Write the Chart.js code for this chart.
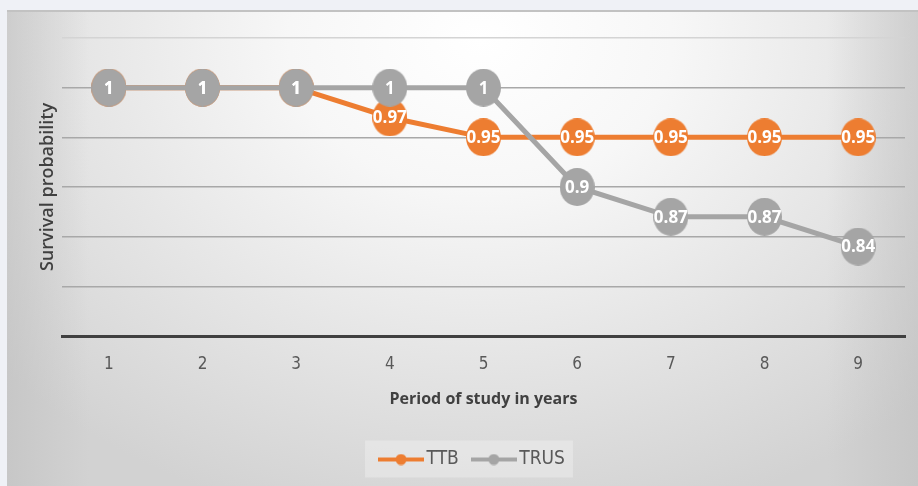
<!DOCTYPE html>
<html>
<head>
<meta charset="utf-8">
<script src="https://cdn.jsdelivr.net/npm/chart.js@4.4.1/dist/chart.umd.min.js"></script>
<style>
  html, body { margin: 0; padding: 0; }
  body { width: 918px; height: 486px; background: #eff1f6; position: relative; overflow: hidden; }
  #frame {
    position: absolute; left: 7px; top: 10px; width: 911px; height: 476px;
    background:
      linear-gradient(to right, rgba(190,190,190,0.55) 0%, rgba(190,190,190,0) 9%, rgba(190,190,190,0) 90%, rgba(190,190,190,0.55) 100%),
      radial-gradient(ellipse 70% 105% at 52% 6%, #ffffff 0%, #f7f7f7 30%, #e6e6e6 62%, #d2d2d2 100%);
    border-top: 2px solid #c2c2c2;
    box-sizing: border-box;
  }
  #wrap { position: absolute; left: 7px; top: 10px; width: 911px; height: 476px; }
</style>
</head>
<body>
<div id="frame"></div>
<div id="wrap"><canvas id="myChart" width="911" height="476"></canvas></div>
<script>
// data
let years = ["1", "2", "3", "4", "5", "6", "7", "8", "9"];
let ttb = [1, 1, 1, 0.97, 0.95, 0.95, 0.95, 0.95, 0.95];
let trus = [1, 1, 1, 1, 1, 0.9, 0.87, 0.87, 0.84];
let yMin = 0.75;
let yMax = 1.05;
let yStep = 0.05;

let orange = "#ed7d31";
let grey = "#a5a5a5";

// point markers (slightly tall ellipses, like the original)
function markerImg(color) {
	let c = document.createElement("canvas");
	c.width = 35;
	c.height = 38;
	let g = c.getContext("2d");
	g.fillStyle = color;
	g.beginPath();
	g.ellipse(17.5, 19, 17.5, 19, 0, 0, Math.PI * 2);
	g.fill();
	return c;
}

// legend symbol: line with a dot in the middle
function legendImg(color) {
	let c = document.createElement("canvas");
	c.width = 46;
	c.height = 12;
	let g = c.getContext("2d");
	g.strokeStyle = color;
	g.lineWidth = 4;
	g.beginPath();
	g.moveTo(0, 6);
	g.lineTo(46, 6);
	g.stroke();
	g.fillStyle = color;
	g.beginPath();
	g.arc(23, 6, 5.5, 0, Math.PI * 2);
	g.fill();
	return c;
}
let legendImgs = [legendImg(orange), legendImg(grey)];

// value labels inside the markers
let valueLabels = {
	id: "valueLabels",
	afterDatasetsDraw(chart) {
		let ctx = chart.ctx;
		ctx.save();
		ctx.font = "bold 17px 'Open Sans', sans-serif";
		ctx.fillStyle = "#ffffff";
		ctx.textAlign = "center";
		ctx.textBaseline = "middle";
		[0, 1].forEach((di) => {
			let meta = chart.getDatasetMeta(di);
			let vals = chart.data.datasets[di].data;
			meta.data.forEach((pt, i) => {
				ctx.fillText(String(vals[i]), pt.x, pt.y + 1);
			});
		});
		ctx.restore();
	},
};

// light box behind the legend
let legendBox = {
	id: "legendBox",
	beforeDraw(chart) {
		let hb = chart.legend.legendHitBoxes;
		if (!hb || !hb.length) return;
		let first = hb[0];
		let last = hb[hb.length - 1];
		let cy = first.top + first.height / 2;
		let ctx = chart.ctx;
		ctx.save();
		ctx.fillStyle = "rgba(255,255,255,0.28)";
		ctx.fillRect(first.left - 20, cy - 19, last.left + last.width - first.left + 28, 37);
		ctx.restore();
	},
};

let near = (a, b) => Math.abs(a - b) < 1e-6;

let ctx = document.getElementById("myChart").getContext("2d");
let myChart = new Chart(ctx, {
	type: "line",
	data: {
		labels: years,
		datasets: [
			{
				label: "TTB",
				data: ttb,
				borderColor: orange,
				backgroundColor: orange,
				borderWidth: 5,
				pointStyle: markerImg(orange),
				pointRadius: 18,
				order: 1,
			},
			{
				label: "TRUS",
				data: trus,
				borderColor: grey,
				backgroundColor: grey,
				borderWidth: 5,
				pointStyle: markerImg(grey),
				pointRadius: 18,
				order: 0,
			},
		],
	},
	options: {
		responsive: false,
		animation: false,
		events: [],
		layout: {
			autoPadding: false,
			padding: { left: 38, right: 13, top: 28, bottom: 7 },
		},
		scales: {
			x: {
				offset: true,
				grid: { display: false, drawTicks: false },
				border: { display: true, color: "#404040", width: 3 },
				ticks: {
					color: "#595959",
					padding: 18,
					font: { family: "'Liberation Sans Narrow', 'DejaVu Sans Condensed', sans-serif", size: 17 },
				},
				title: {
					display: true,
					text: "Period of study in years",
					color: "#404040",
					padding: { top: 0, bottom: 22 },
					font: { family: "'Open Sans', sans-serif", size: 16, weight: "bold" },
				},
				afterFit(scale) {
					let lg = scale.chart.legend;
					scale.height = scale.chart.height - 7 - (lg ? lg.height : 0) - 326;
					scale.paddingLeft = 0;
					scale.paddingRight = 0;
				},
			},
			y: {
				min: yMin,
				max: yMax,
				ticks: { display: false, stepSize: yStep },
				border: { display: false },
				grid: {
					drawTicks: false,
					color: (c) => {
						let v = c.tick ? c.tick.value : 0;
						if (near(v, yMax)) return "#d4d4d4";
						if (near(v, yMin)) return "rgba(0,0,0,0)";
						return "#a8a8a8";
					},
					lineWidth: 1.5,
				},
				title: {
					display: true,
					text: "Survival probability",
					color: "#404040",
					padding: { top: -8, bottom: 0 },
					font: { family: "'Open Sans', sans-serif", size: 18, weight: "600" },
				},
				afterFit(scale) {
					scale.width = 17;
				},
			},
		},
		plugins: {
			legend: {
				position: "bottom",
				labels: {
					usePointStyle: true,
					pointStyleWidth: 32,
					padding: 19,
					color: "#595959",
					font: { family: "'Liberation Sans Narrow', 'DejaVu Sans Condensed', sans-serif", size: 19 },
					sort: (a, b) => a.datasetIndex - b.datasetIndex,
					generateLabels(chart) {
						let items = Chart.defaults.plugins.legend.labels.generateLabels(chart);
						items.forEach((it) => {
							it.pointStyle = legendImgs[it.datasetIndex];
						});
						return items;
					},
				},
			},
			tooltip: { enabled: false },
		},
	},
	plugins: [legendBox, valueLabels],
});
</script>
</body>
</html>
